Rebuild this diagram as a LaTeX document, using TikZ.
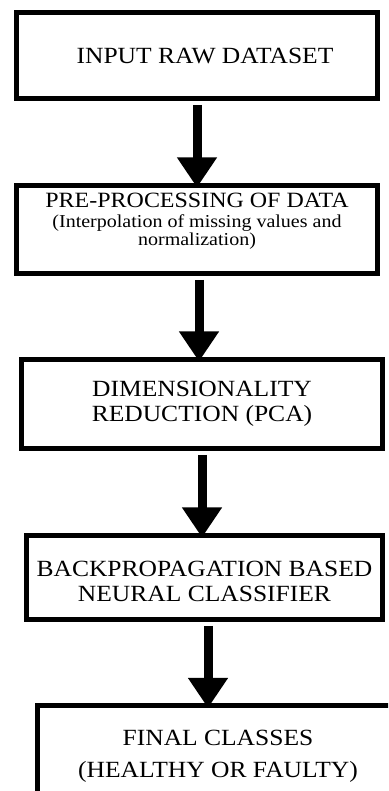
\documentclass[tikz,border=0pt]{standalone}
\usepackage{fontspec}
\setmainfont[FakeStretch=1.1]{Liberation Serif}
\usetikzlibrary{arrows.meta}

\begin{document}
\begin{tikzpicture}[x=0.5pt, y=0.5pt,
    stage/.style={draw, line width=2.5pt, outer sep=0pt, inner sep=0pt, align=center,
      minimum width=180.5pt, font=\fontsize{11.6}{12.5}\selectfont},
    flow/.style={line width=4.5pt, shorten <=3.25pt, shorten >=-1pt,
      -{Triangle[width=19pt, length=15pt]}}]
%      \draw [help lines, opacity=0.5] (0,0) grid [step=20] (388,791);
      \useasboundingbox (0,0) rectangle (388,791);
      \clip (0,0) rectangle (388,791);

      \node [stage, minimum height=42.75pt] (input) at (197,735.25)
        {\hspace*{8pt}INPUT RAW DATASET};
      \node [stage, minimum height=44pt, text depth=10pt, font=\fontsize{10.9}{8}\selectfont]
        (prep) at (197,561.5)
        {PRE-PROCESSING OF DATA\\[2pt]
         {\fontsize{9.1}{8}\selectfont (Interpolation of missing values and}\\
         {\fontsize{9.1}{8}\selectfont normalization)}};
      \node [stage, minimum height=44.5pt] (pca) at (202,387)
        {DIMENSIONALITY\\ REDUCTION (PCA)};
      \node [stage, minimum width=178pt, minimum height=42pt] (bpnn) at (204.5,213.5)
        {\rule{0pt}{12pt}BACKPROPAGATION BASED\\ NEURAL CLASSIFIER};
      % bottom box runs off the page
      \node [stage, minimum height=50pt] (classes) at (218,35)
        {FINAL CLASSES\\[3.5pt] (HEALTHY OR FAULTY)};

      \draw [flow] (input.south) -- (input.south |- prep.north);
      \draw [flow] ([xshift=1pt]prep.south) -- ([xshift=1pt]prep.south |- pca.north);
      \draw [flow] (pca.south) -- (pca.south |- bpnn.north);
      \draw [flow] ([xshift=1.75pt]bpnn.south) -- ([xshift=1.75pt]bpnn.south |- classes.north);
\end{tikzpicture}
\end{document}
